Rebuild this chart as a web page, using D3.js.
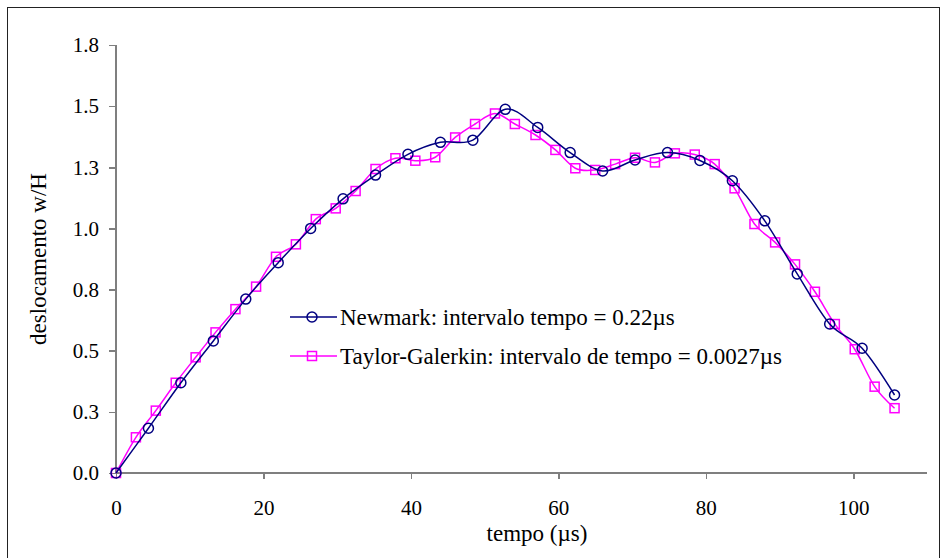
<!DOCTYPE html>
<html>
<head>
<meta charset="utf-8">
<script src="https://cdn.jsdelivr.net/npm/d3@7"></script>
<style>
  body { margin: 0; background: #fff; }
  svg { display: block; font-family: "Liberation Serif", "Times New Roman", serif; }
  .axis path, .axis line { stroke: #7f7f7f; stroke-width: 1.5; shape-rendering: crispEdges; }
  .axis text { font-family: "Liberation Serif", "Times New Roman", serif; font-size: 21px; fill: #000; }
  .axis--label { font-size: 23px; fill: #000; }
  .legend text { font-size: 23px; fill: #000; }
</style>
</head>
<body>
<div class="graph"></div>
<script>
// time values (µs) and displacement w/H
var newmarkTime = [0, 4.4, 8.8, 13.2, 17.6, 22.0, 26.4, 30.8, 35.2, 39.6, 44.0, 48.4, 52.8,
                   57.2, 61.6, 66.0, 70.4, 74.8, 79.2, 83.6, 88.0, 92.4, 96.8, 101.2, 105.6];
var newmarkDisp = [0, 0.183, 0.369, 0.540, 0.711, 0.860, 1.000, 1.121, 1.218, 1.303, 1.352, 1.361, 1.487,
                   1.413, 1.310, 1.235, 1.280, 1.310, 1.278, 1.195, 1.031, 0.814, 0.609, 0.510, 0.319];

var taylorTime = [0, 2.7, 5.4, 8.1, 10.8, 13.5, 16.2, 19.0, 21.7, 24.4, 27.1, 29.8, 32.5, 35.2,
                  37.9, 40.6, 43.3, 46.0, 48.7, 51.4, 54.1, 56.9, 59.6, 62.3, 65.0, 67.7, 70.4,
                  73.1, 75.8, 78.5, 81.2, 83.9, 86.6, 89.4, 92.1, 94.8, 97.5, 100.2, 102.9, 105.6];
var taylorDisp = [0, 0.146, 0.255, 0.369, 0.473, 0.575, 0.670, 0.762, 0.884, 0.935, 1.038, 1.082, 1.153, 1.243,
                  1.287, 1.277, 1.291, 1.372, 1.427, 1.470, 1.427, 1.382, 1.321, 1.246, 1.239, 1.263, 1.289,
                  1.270, 1.307, 1.302, 1.263, 1.164, 1.018, 0.943, 0.853, 0.741, 0.609, 0.506, 0.353, 0.265];

var xTicks = [0, 20, 40, 60, 80, 100];
var yTicks = [0, 0.25, 0.5, 0.75, 1.0, 1.25, 1.5, 1.75];
var yTickLabels = ["0.0", "0.3", "0.5", "0.8", "1.0", "1.3", "1.5", "1.8"];

var seriesNames = ["Newmark: intervalo tempo = 0.22\u00b5s",
                   "Taylor-Galerkin: intervalo de tempo = 0.0027\u00b5s"];

var options = { width: 945, height: 558 },
    margin = { top: 45, left: 116, right: 17, bottom: 85 };

var svg = d3.select(".graph").append("svg")
    .attr("width", options.width)
    .attr("height", options.height);

// outer frame
svg.append("rect")
  .attr("x", 7.5).attr("y", 7.5)
  .attr("width", 932).attr("height", 570)
  .attr("fill", "none")
  .attr("stroke", "#222")
  .attr("stroke-width", 1);

var xScale = d3.scaleLinear()
    .domain([0, 110])
    .range([margin.left, options.width - margin.right - 1]);
var yScale = d3.scaleLinear()
    .domain([0, 1.75])
    .range([options.height - margin.bottom, margin.top]);

var xAxis = d3.axisBottom(xScale).tickValues(xTicks).tickSize(6).tickPadding(21).tickFormat(d3.format("d")),
    yAxis = d3.axisLeft(yScale).tickValues(yTicks).tickSize(7).tickPadding(10)
      .tickFormat(function(d, i) { return yTickLabels[i]; });

var gx = svg.append("g")
  .attr("class", "x axis")
  .attr("transform", "translate(0," + yScale(0) + ")")
  .call(xAxis);
gx.select(".domain").attr("d", "M" + xScale.range()[0] + ",0H" + xScale.range()[1]);

var gy = svg.append("g")
  .attr("class", "y axis")
  .attr("transform", "translate(" + xScale(0) + ",0)")
  .call(yAxis);
gy.select(".domain").attr("d", "M0," + yScale.range()[0] + "V" + yScale.range()[1]);

svg.append("text")
  .attr("class", "axis--label")
  .attr("x", 537)
  .attr("y", 541)
  .attr("text-anchor", "middle")
  .text("tempo (\u00b5s)");

svg.append("text")
  .attr("class", "axis--label")
  .attr("transform", "translate(46," + ((yScale(0) + yScale(1.75)) / 2) + ") rotate(-90)")
  .attr("text-anchor", "middle")
  .text("deslocamento w/H");

var line = d3.line()
  .curve(d3.curveCardinal.tension(0))
  .x(function(d) { return xScale(d.t); })
  .y(function(d) { return yScale(d.v); });

var newmark = newmarkTime.map(function(t, i) { return { t: t, v: newmarkDisp[i] }; }),
    taylor = taylorTime.map(function(t, i) { return { t: t, v: taylorDisp[i] }; });

var navy = "#000080", magenta = "#ff00ff";

svg.append("path")
  .datum(taylor)
  .attr("fill", "none")
  .attr("stroke", magenta)
  .attr("stroke-width", 1.5)
  .attr("d", line);

svg.selectAll(".tg-marker")
  .data(taylor)
  .enter().append("rect")
    .attr("class", "tg-marker")
    .attr("x", function(d) { return xScale(d.t) - 4.5; })
    .attr("y", function(d) { return yScale(d.v) - 4.5; })
    .attr("width", 9).attr("height", 9)
    .attr("fill", "none")
    .attr("stroke", magenta)
    .attr("stroke-width", 1.5);

svg.append("path")
  .datum(newmark)
  .attr("fill", "none")
  .attr("stroke", navy)
  .attr("stroke-width", 1.5)
  .attr("d", line);

svg.selectAll(".nm-marker")
  .data(newmark)
  .enter().append("circle")
    .attr("class", "nm-marker")
    .attr("cx", function(d) { return xScale(d.t); })
    .attr("cy", function(d) { return yScale(d.v); })
    .attr("r", 5)
    .attr("fill", "none")
    .attr("stroke", navy)
    .attr("stroke-width", 1.5);

// legend
var legend = svg.append("g").attr("class", "legend");
var rows = [{ y: 317, color: navy, shape: "circle" }, { y: 356, color: magenta, shape: "square" }];
rows.forEach(function(r, i) {
  legend.append("line")
    .attr("x1", 290).attr("x2", 337)
    .attr("y1", r.y).attr("y2", r.y)
    .attr("stroke", r.color).attr("stroke-width", 1.5);
  if (r.shape == "circle") {
    legend.append("circle")
      .attr("cx", 312).attr("cy", r.y).attr("r", 5)
      .attr("fill", "none").attr("stroke", r.color).attr("stroke-width", 1.5);
  } else {
    legend.append("rect")
      .attr("x", 307.5).attr("y", r.y - 4.5).attr("width", 9).attr("height", 9)
      .attr("fill", "none").attr("stroke", r.color).attr("stroke-width", 1.5);
  }
  legend.append("text")
    .attr("x", 340).attr("y", r.y)
    .attr("dy", "0.35em")
    .text(seriesNames[i]);
});
</script>
</body>
</html>
